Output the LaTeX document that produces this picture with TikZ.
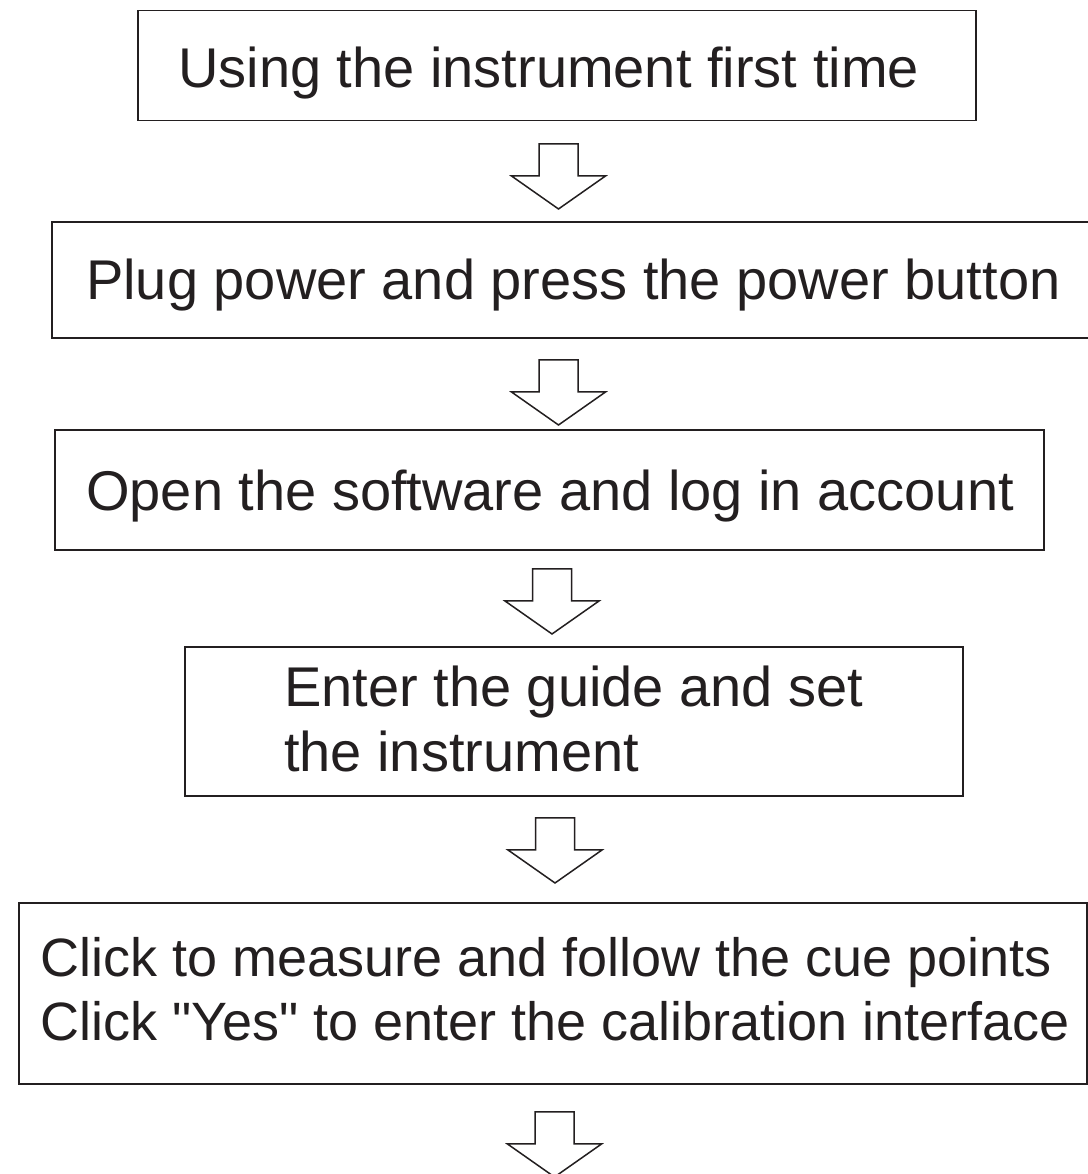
\documentclass[tikz,border=0pt]{standalone}
\usepackage{fontspec}
\setmainfont{Liberation Sans}[Ligatures=TeXOff]
\definecolor{ink}{HTML}{231F20}
\begin{document}
\begin{tikzpicture}[x=1pt,y=1pt,
  boxnode/.style={draw=ink,line width=1.8pt,rectangle,inner sep=0pt},
  lbl/.style={anchor=base west,inner sep=0pt,text=ink,font=\fontsize{56}{65}\selectfont},
  lblsmall/.style={lbl,font=\fontsize{54}{65}\selectfont},
  blockarrow/.pic={\draw[draw=ink,line width=1.5pt,fill=white,line join=miter]
     (-19.5,0) -- (19.5,0) -- (19.5,-32) -- (47,-32) -- (0,-65) -- (-47,-32) -- (-19.5,-32) -- cycle;}]
\useasboundingbox[fill=white] (0,0) rectangle (1087,1174);
% boxes (pixel y measured from top -> 1174 - y)
\node[boxnode,minimum width=838,minimum height=110] (b1) at (557,1174-65.5) {};
\node[boxnode,minimum width=1050,minimum height=116] (b2) at (52+525,1174-280) {};
\node[boxnode,minimum width=989,minimum height=120] (b3) at (549.5,1174-490) {};
\node[boxnode,minimum width=778,minimum height=149] (b4) at (574,1174-721.5) {};
\node[boxnode,minimum width=1068,minimum height=181] (b5) at (19+534,1174-993.5) {};
% texts
\node[lbl] (t1) at (178,1174-88) {Using the instrument first time};
\node[lbl] (t2) at (86,1174-300) {Plug power and press the power button};
\node[lbl] (t3) at (86,1174-511) {Open the software and log in account};
\node[lbl] (t4a) at (284,1174-707) {Enter the guide and set};
\node[lbl] (t4b) at (284,1174-772) {the instrument};
\node[lblsmall] (t5a) at (40,1174-977) {Click to measure and follow the cue points};
\node[lblsmall] (t5b) at (40,1174-1041) {Click "Yes" to enter the calibration interface};
% arrows
\coordinate (a1) at (558.5,1174-144);
\coordinate (a2) at (558.5,1174-360);
\coordinate (a3) at (552,1174-569);
\coordinate (a4) at (555,1174-818);
\coordinate (a5) at (554.5,1174-1112);
\foreach \a in {a1,a2,a3,a4,a5} \pic at (\a) {blockarrow};
\end{tikzpicture}
\end{document}
